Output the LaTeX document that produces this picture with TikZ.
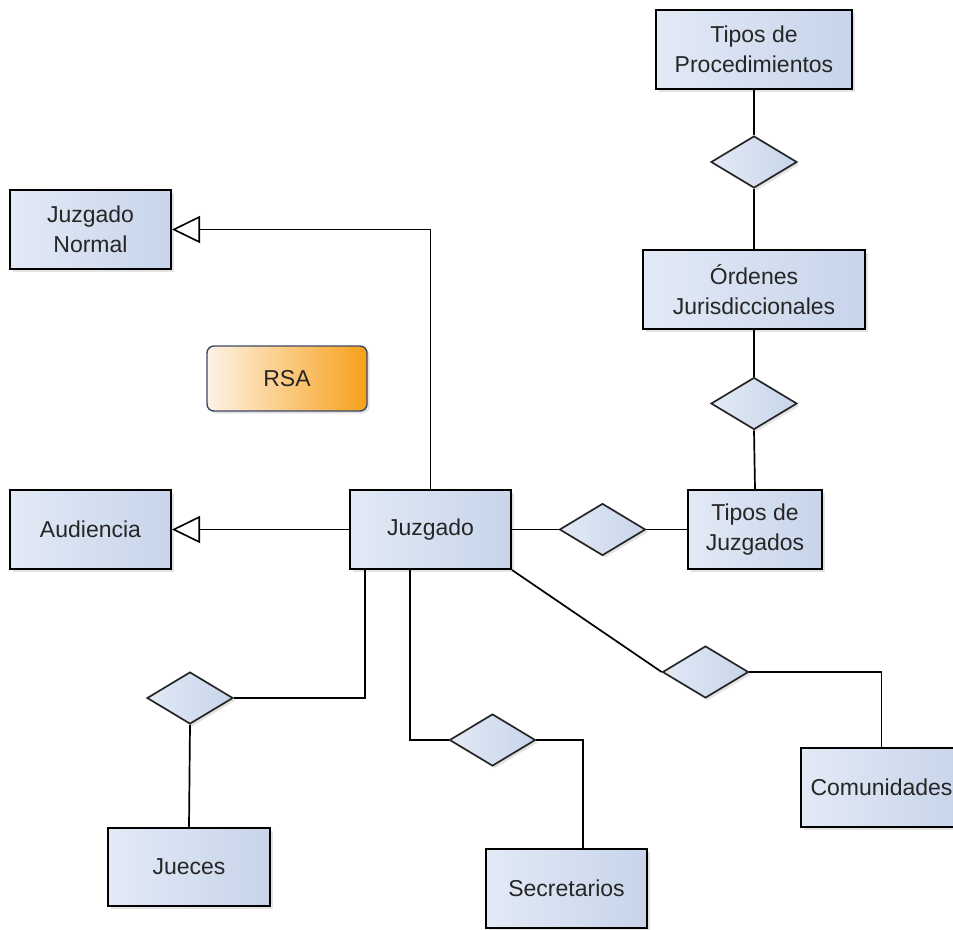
\documentclass[tikz,border=0pt]{standalone}
\usepackage{fontspec}
\setmainfont{Liberation Sans}
\usetikzlibrary{shapes.geometric,arrows.meta,shadows}

\definecolor{boxleft}{HTML}{E3EAF6}
\definecolor{boxright}{HTML}{C7D4EA}
\definecolor{rsaleft}{HTML}{FDF3E6}
\definecolor{rsaright}{HTML}{F8A01A}
\definecolor{rsaline}{HTML}{3A4868}
\definecolor{txt}{HTML}{262626}

\tikzset{
  softshadow/.style={drop shadow={opacity=0.22, shadow xshift=2.5pt, shadow yshift=-2.5pt}},
  entity/.style={draw=black, line width=2pt, left color=boxleft, right color=boxright,
    minimum width=161pt, minimum height=79pt, inner sep=2pt, align=center,
    text=txt, font=\fontsize{23}{30}\selectfont, softshadow},
  relation/.style={diamond, draw=black!85, line width=1.7pt, left color=boxleft, right color=boxright,
    minimum width=86pt, minimum height=52pt, inner sep=0pt, softshadow},
  link/.style={draw=black, line width=1.7pt},
  isa/.style={link, -{Triangle[open, length=28pt, width=27pt, line width=1.6pt, fill=white]}}
}

\begin{document}
\begin{tikzpicture}[x=1pt, y=-1pt]
\useasboundingbox (0,0) rectangle (953,929);
\clip (0,0) rectangle (953,929);

% entities
\node[entity, minimum width=196pt] (tp) at (754,49.5) {Tipos de\\Procedimientos};
\node[entity, minimum width=222pt] (oj) at (754,289.5) {Órdenes\\Jurisdiccionales};
\node[entity, minimum width=134pt] (tj) at (755,529.5) {Tipos de\\Juzgados};
\node[entity] (juz) at (430.5,529.5) {Juzgado};
\node[entity] (aud) at (90.5,529.5) {Audiencia};
\node[entity] (jn) at (90.5,229.5) {Juzgado\\Normal};
\node[entity, minimum width=162pt, minimum height=78pt] (jue) at (189,867) {Jueces};
\node[entity] (sec) at (566.5,888.5) {Secretarios};
\node[entity] (com) at (881.5,787.5) {Comunidades};

% the RSA label box
\node[draw=rsaline, line width=1.4pt, rounded corners=7pt, left color=rsaleft, right color=rsaright,
  minimum width=160pt, minimum height=65pt, text=txt, font=\fontsize{23}{30}\selectfont,
  softshadow] (rsa) at (287,378.5) {RSA};

% relationships
\node[relation] (r1) at (754,162) {};
\node[relation] (r2) at (754,403.5) {};
\node[relation] (r3) at (602.5,529.5) {};
\node[relation] (rj) at (190,698) {};
\node[relation] (rs) at (492.5,740) {};
\node[relation] (rc) at (705.5,672) {};

% anchor points on box edges
\coordinate (jueA) at (365,569);
\coordinate (secA) at (410,569);
\coordinate (secTop) at (583,849);

% specialisation arrows
\draw[isa] (juz.north) |- (jn.east);
\draw[isa] (juz.west) -- (aud.east);

% chain of relationships on the right
\draw[link] (tp.south) -- (r1.north);
\draw[link] (r1.south) -- (oj.north);
\draw[link] (oj.south) -- (r2.north);
\draw[link] (r2.south) -- (tj.north);
\draw[link] (juz.east) -- (r3.west);
\draw[link] (r3.east) -- (tj.west);

% relationships below Juzgado
\draw[link] (jueA) |- (rj.east);
\draw[link] (rj.south) -- (jue.north);
\draw[link] (secA) |- (rs.west);
\draw[link] (rs.east) -| (secTop);
\draw[link] (juz.south east) -- (rc.west);
\draw[link] (rc.east) -| (com.north);
\end{tikzpicture}
\end{document}
